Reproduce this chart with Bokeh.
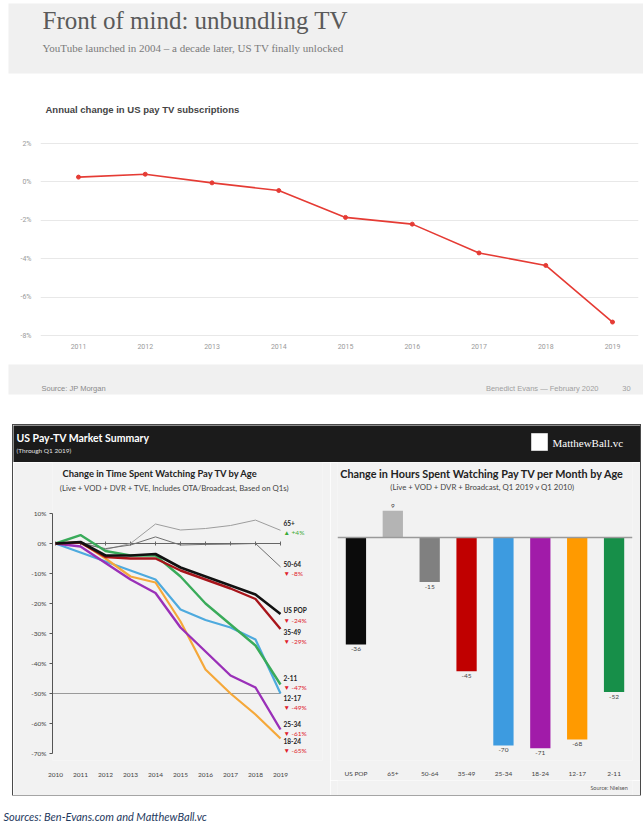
from math import pi
from bokeh.plotting import figure
from bokeh.layouts import column, row
from bokeh.models import Range1d, FixedTicker, Label, Span, Spacer, FactorRange
from bokeh.core.properties import value
from bokeh.embed import file_html
from bokeh.resources import INLINE

# ---------------- data ----------------
# Top chart: annual change in US pay TV subscriptions (%)
sub_years = [2011, 2012, 2013, 2014, 2015, 2016, 2017, 2018, 2019]
sub_change_pct = [0.25, 0.4, -0.05, -0.45, -1.85, -2.2, -3.7, -4.35, -7.3]
sub_ticks = [-8, -6, -4, -2, 0, 2]

# Bottom-left chart: change in time spent watching pay TV by age (% vs 2010)
tv_years = [2010, 2011, 2012, 2013, 2014, 2015, 2016, 2017, 2018, 2019]
age_65_plus = [0, 0.5, -2.0, 0.0, 6.5, 4.5, 5.0, 6.0, 7.8, 4.4]
age_50_64 = [0, 0.0, -1.7, -0.5, 2.2, -0.5, -0.3, -0.2, 0.0, -7.8]
age_us_pop = [0, 0.5, -4.0, -4.0, -3.5, -8.0, -11.0, -14.0, -17.0, -23.5]
age_35_49 = [0, 0.3, -4.5, -5.0, -5.0, -9.0, -12.0, -15.0, -18.5, -28.5]
age_2_11 = [0, 2.8, -2.5, -4.0, -4.0, -11.0, -20.0, -27.0, -34.0, -47.0]
age_12_17 = [0, -3.0, -6.0, -9.0, -12.0, -22.0, -25.5, -28.0, -32.0, -50.0]
age_25_34 = [0, -1.0, -6.5, -12.0, -16.5, -28.0, -36.0, -44.0, -48.0, -62.0]
age_18_24 = [0, 0.5, -5.0, -11.0, -13.0, -26.0, -42.0, -50.0, -57.0, -65.0]
line_ticks = [10, 0, -10, -20, -30, -40, -50, -60, -70]
end_names = ["65+", "50-64", "US POP", "35-49", "2-11", "12-17", "25-34", "18-24"]
end_changes = ["\u25B2 +4%", "\u25BC -8%", "\u25BC -24%", "\u25BC -29%",
               "\u25BC -47%", "\u25BC -49%", "\u25BC -61%", "\u25BC -65%"]

# Bottom-right chart: change in hours per month by age (Q1 2019 v Q1 2010)
bar_cats = ["US POP", "65+", "50-64", "35-49", "25-34", "18-24", "12-17", "2-11"]
bar_vals = [-36, 9, -15, -45, -70, -71, -68, -52]

# ---------------- styles ----------------
bar_colors = ["#0b0b0b", "#b4b4b4", "#808080", "#c00000", "#3d9be0", "#a11ba9", "#ff9a00", "#178f49"]
line_styles = [  # (series, color, width)
    (age_65_plus, "#9d9d9d", 1.0),
    (age_50_64, "#6f6f6f", 1.0),
    (age_12_17, "#4eaade", 2.2),
    (age_18_24, "#f5a83a", 2.2),
    (age_25_34, "#9a30b8", 2.4),
    (age_2_11, "#3aab5a", 2.4),
    (age_35_49, "#a8151b", 2.4),
    (age_us_pop, "#111111", 2.6),
]
end_label_page_y = [522, 563, 610, 631, 677, 697, 723, 740]
PANEL_BG = "#f2f2f2"
SANS = "Lato"
SERIF = "Liberation Serif"


def px_fig(w, h, bg="#ffffff"):
    p = figure(width=w, height=h, x_range=Range1d(0, w), y_range=Range1d(h, 0),
               x_axis_type=None, y_axis_type=None, output_backend="svg",
               toolbar_location=None, min_border=0)
    p.grid.visible = False
    p.outline_line_color = None
    p.background_fill_color = bg
    p.border_fill_color = bg
    return p


def txt(p, x, y, s, size, color, font=SANS, style="normal", align="left", baseline="middle"):
    p.text(x=[x], y=[y], text=[s], text_font=value(font), text_font_size=value(f"{size}px"),
           text_color=color, text_font_style=style, text_align=align, text_baseline=baseline)


def lab(p, sx, sy, s, size, color, font=SANS, style="normal", align="left"):
    p.add_layout(Label(x=sx, y=sy, x_units="screen", y_units="screen", text=s,
                       text_font=font, text_font_size=f"{size}px", text_color=color,
                       text_font_style=style, text_align=align, text_baseline="middle"))


# ---------------- header ----------------
head = px_fig(643, 80)
head.quad(left=8, right=643, top=3, bottom=73, fill_color="#f0f0f0", line_color=None)
txt(head, 42, 20, "Front of mind: unbundling TV", 25, "#5a5a5a", font=SERIF)
txt(head, 42, 47, "YouTube launched in 2004 \u2013 a decade later, US TV finally unlocked", 11, "#7a7a7a", font=SERIF)

# ---------------- top line chart ----------------
# page frame: x 40..638, y 80..338 ; 2011 at x78, 2019 at x612 ; 2% at y143, -8% at y335
kx = (612 - 78) / 8
ky = (335 - 143) / 10
top = figure(width=643, height=280, output_backend="svg", toolbar_location=None,
             x_range=Range1d(2011 - (78 - 40) / kx, 2019 + (638 - 612) / kx),
             y_range=Range1d(-8 - (338 - 335) / ky, 2 + (143 - 80) / ky),
             min_border=0, min_border_left=40, min_border_right=5, min_border_bottom=22)
top.outline_line_color = None
top.xgrid.visible = False
top.ygrid.grid_line_color = "#e8e8e8"
top.yaxis.ticker = FixedTicker(ticks=sub_ticks)
top.yaxis.major_label_overrides = {t: f"{t}%" for t in sub_ticks}
top.xaxis.ticker = FixedTicker(ticks=sub_years)
for ax in (top.xaxis, top.yaxis):
    ax.axis_line_color = None
    ax.major_tick_line_color = None
    ax.minor_tick_line_color = None
    ax.major_tick_out = 0
    ax.major_label_text_font = "Roboto"
    ax.major_label_text_font_size = "7px"
    ax.major_label_text_color = "#9a9a9a"
top.yaxis.major_label_standoff = 9
top.xaxis.major_label_standoff = 5
top.line(sub_years, sub_change_pct, line_color="#e53b34", line_width=1.6)
top.scatter(sub_years, sub_change_pct, size=4, fill_color="#e53b34", line_color="#e53b34")
lab(top, 5, 338 - 109, "Annual change in US pay TV subscriptions", 9.5, "#444444",
    font="Liberation Sans", style="bold")

# ---------------- footer of top slide ----------------
foot = px_fig(643, 65)
foot.quad(left=8, right=643, top=4, bottom=34, fill_color="#f0f0f0", line_color=None)
txt(foot, 41, 28, "Source: JP Morgan", 7.5, "#8a8a8a", font="Liberation Sans")
txt(foot, 598, 28, "Benedict Evans \u2014 February 2020", 7.5, "#a0a0a0", font="Liberation Sans", align="right")
txt(foot, 626, 28, "30", 7.5, "#a0a0a0", font="Liberation Sans", align="center")

# ---------------- panel header ----------------
ph = px_fig(627, 37, bg="#1b1b1b")
txt(ph, 3, 12, "US Pay-TV Market Summary", 10.5, "#ffffff", style="bold")
txt(ph, 3, 25, "(Through Q1 2019)", 6.5, "#e0e0e0")
ph.quad(left=518, right=534, top=8, bottom=25, fill_color="#ffffff", line_color="#cfcfcf")
txt(ph, 539, 17, "MatthewBall.vc", 11, "#ffffff", font=SERIF)

# ---------------- bottom-left line chart ----------------
# page frame: x 52..322, y 462..760 ; 2010 at x55, 25px/yr ; 0% at y543, 3px per %
LX0, LY0 = 52, 760
lk = 25.0
lky = 3.0
left = figure(width=317, height=333, output_backend="svg", toolbar_location=None,
              x_range=Range1d(2010 - (55 - 52) / lk, 2010 + (322 - 55) / lk),
              y_range=Range1d(-(760 - 543) / lky, (543 - 462) / lky),
              min_border=0, min_border_left=39, min_border_right=8, min_border_bottom=35)
left.outline_line_color = None
left.grid.visible = False
left.background_fill_color = PANEL_BG
left.border_fill_color = PANEL_BG
left.yaxis.ticker = FixedTicker(ticks=line_ticks)
left.yaxis.bounds = (min(line_ticks), max(line_ticks))
left.yaxis.major_label_overrides = {t: f"{t}%" for t in line_ticks}
left.yaxis.axis_line_color = "#555555"
left.yaxis.major_tick_line_color = "#555555"
left.yaxis.major_tick_out = 3
left.yaxis.major_tick_in = 0
left.yaxis.minor_tick_line_color = None
left.yaxis.major_label_standoff = 3
left.xaxis.ticker = FixedTicker(ticks=tv_years)
left.xaxis.axis_line_color = None
left.xaxis.major_tick_line_color = None
left.xaxis.minor_tick_line_color = None
left.xaxis.major_label_standoff = 6
for ax in (left.xaxis, left.yaxis):
    ax.major_label_text_font = SANS
    ax.major_label_text_font_size = "6.5px"
    ax.major_label_text_color = "#444444"

# reference lines: -50% and the 0% baseline with year ticks
left.segment(x0=[left.x_range.start], x1=[tv_years[-1]], y0=[-50], y1=[-50], line_color="#9a9a9a", line_width=1)
left.segment(x0=[tv_years[0]], x1=[tv_years[-1]], y0=[0], y1=[0], line_color="#666666", line_width=1.2)
left.scatter(tv_years, [0] * len(tv_years), marker="dash", angle=pi / 2, size=4, line_color="#666666")

for series, color, width in line_styles:
    left.line(tv_years, series, line_color=color, line_width=width, line_join="round")

lab_x = tv_years[-1] + (283 - 280) / lk
name_y = [(543 - py) / lky for py in end_label_page_y]
chg_y = [(543 - py - 10) / lky for py in end_label_page_y]
chg_colors = ["#3aaa35" if c.startswith("\u25B2") else "#e0202a" for c in end_changes]
left.text(x=[lab_x] * len(end_names), y=name_y, text=end_names, text_font=value(SANS),
          text_font_size=value("6.5px"), text_font_style="bold", text_color="#222222",
          text_baseline="middle")
left.text(x=[lab_x] * len(end_changes), y=chg_y, text=end_changes, text_font=value(SANS),
          text_font_size=value("6.5px"), text_color=chg_colors, text_baseline="middle")
lab(left, 160 - LX0, LY0 - 473, "Change in Time Spent Watching Pay TV by Age", 9.4, "#222222",
    style="bold", align="center")
lab(left, 174 - LX0, LY0 - 487, "(Live + VOD + DVR + TVE, Includes OTA/Broadcast, Based on Q1s)", 7.8,
    "#444444", align="center")

# ---------------- bottom-right bar chart ----------------
# page frame: x 337..632, y 462..760 ; 0 at y537, 2.97 px per hour
RX0, RY0 = 337, 760
bky = 2.97
right = figure(width=310, height=318, output_backend="svg", toolbar_location=None,
               x_range=FactorRange(*bar_cats), y_range=Range1d(-(760 - 537) / bky, (537 - 462) / bky),
               y_axis_location=None, min_border=0, min_border_left=7, min_border_right=8,
               min_border_bottom=20)
right.outline_line_color = None
right.grid.visible = False
right.background_fill_color = PANEL_BG
right.border_fill_color = PANEL_BG
right.xaxis.axis_line_color = None
right.xaxis.major_tick_line_color = None
right.xaxis.minor_tick_line_color = None
right.xaxis.major_label_standoff = 3
right.xaxis.major_label_text_font = SANS
right.xaxis.major_label_text_font_size = "6.5px"
right.xaxis.major_label_text_color = "#444444"
right.vbar(x=bar_cats, top=bar_vals, width=0.55, fill_color=bar_colors, line_color=None)
right.add_layout(Span(location=0, dimension="width", line_color="#9a9a9a", line_width=1.5))
neg = [(c, v) for c, v in zip(bar_cats, bar_vals) if v < 0]
pos = [(c, v) for c, v in zip(bar_cats, bar_vals) if v >= 0]
right.text(x=[c for c, _ in neg], y=[v for _, v in neg], text=[str(v) for _, v in neg],
           text_font=value(SANS), text_font_size=value("6.5px"), text_color="#444444",
           text_align="center", text_baseline="top", y_offset=3)
right.text(x=[c for c, _ in pos], y=[v for _, v in pos], text=[str(v) for _, v in pos],
           text_font=value(SANS), text_font_size=value("6.5px"), text_color="#444444",
           text_align="center", text_baseline="bottom", y_offset=-3)
lab(right, 482 - RX0, RY0 - 473, "Change in Hours Spent Watching Pay TV per Month by Age", 10.8,
    "#222222", style="bold", align="center")
lab(right, 482 - RX0, RY0 - 486, "(Live + VOD + DVR + Broadcast, Q1 2019 v Q1 2010)", 7.8,
    "#444444", align="center")

src = px_fig(310, 15, bg=PANEL_BG)
txt(src, 305, 7, "Source: Nielsen", 5.5, "#555555", align="right")

panel = column(ph, row(left, column(right, src)), styles={"outline": "1.5px solid #4a4a4a"})

# ---------------- page footer ----------------
srcs = px_fig(643, 33)
txt(srcs, 3, 21, "Sources: Ben-Evans.com and MatthewBall.vc", 11, "#1f3a60", style="italic")

page = column(row(head), row(top), row(foot),
              row(Spacer(width=13, height=370), panel, Spacer(width=3, height=370)), row(srcs))

open("out.html", "w").write(file_html(page, INLINE, title="Front of mind: unbundling TV"))
